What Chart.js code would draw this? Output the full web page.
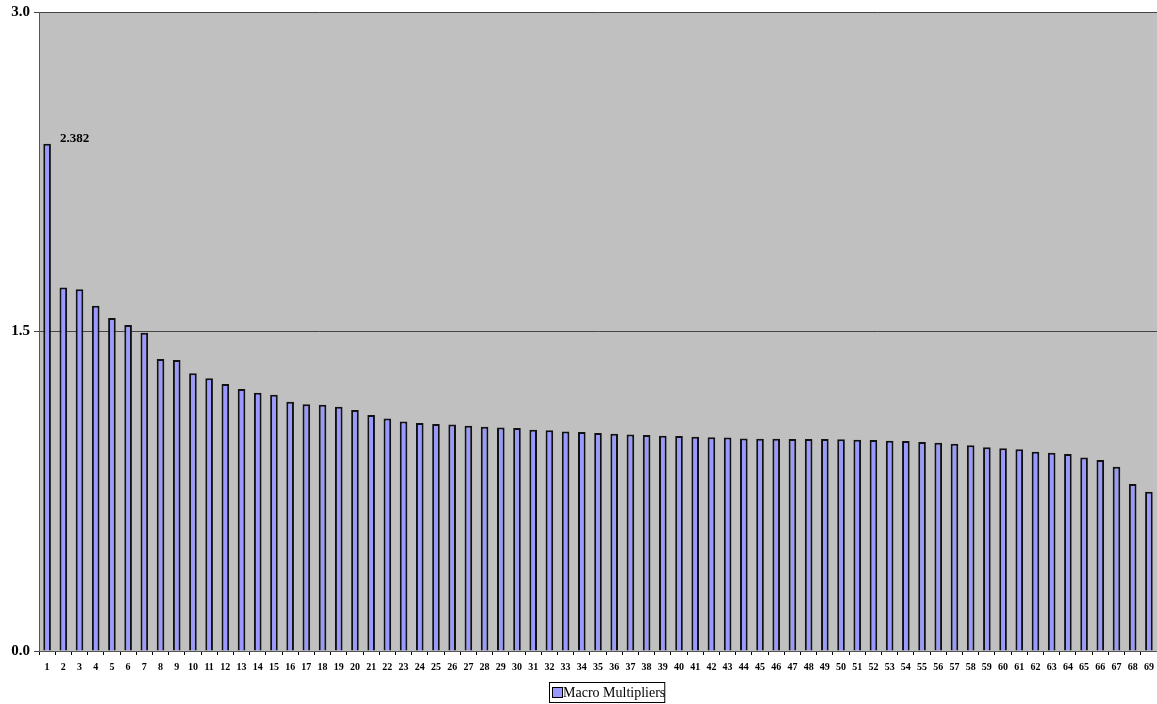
<!DOCTYPE html>
<html>
<head>
<meta charset="utf-8">
<script src="https://cdn.jsdelivr.net/npm/chart.js@4"></script>
<style>
html,body{margin:0;padding:0;background:#fff}
#wrap{width:1157px;height:704px;position:relative}
</style>
</head>
<body>
<div id="wrap"><canvas id="c"></canvas></div>
<script>
const labels = Array.from({length:69},(_,i)=>String(i+1));
const multipliers = [
  2.382,1.707,1.698,1.621,1.563,1.531,1.494,1.371,1.366,1.304,
  1.280,1.254,1.230,1.213,1.203,1.170,1.159,1.156,1.147,1.131,
  1.108,1.091,1.077,1.070,1.066,1.063,1.058,1.053,1.049,1.047,
  1.039,1.036,1.030,1.028,1.023,1.020,1.017,1.014,1.011,1.009,
  1.006,1.003,1.002,0.998,0.997,0.997,0.995,0.995,0.995,0.994,
  0.992,0.991,0.987,0.986,0.981,0.978,0.973,0.966,0.956,0.952,
  0.947,0.936,0.931,0.925,0.908,0.897,0.865,0.784,0.748
];
const yTicks = [0,1.5,3.0];
const seriesName = 'Macro Multipliers';
const FONT = '"Liberation Serif","Times New Roman",serif';

const excelLook = {
  id:'excelLook',
  beforeDraw(chart){
    const a=chart.chartArea, ctx=chart.ctx;
    ctx.save();ctx.fillStyle='#C0C0C0';
    ctx.fillRect(a.left,a.top,a.right-a.left,a.bottom-a.top);
    ctx.restore();
  },
  afterDatasetsDraw(chart){
    const bar=chart.getDatasetMeta(0).data[0], ctx=chart.ctx;
    ctx.save();
    ctx.font='bold 13px '+FONT;ctx.fillStyle='#000';ctx.textBaseline='alphabetic';
    ctx.fillText(multipliers[0].toFixed(3),bar.x+13,bar.y-2);
    ctx.restore();
  },
  afterDraw(chart){
    // legend box, Excel style
    const ctx=chart.ctx, ds=chart.data.datasets[0];
    ctx.save();
    ctx.font='14px '+FONT;
    const tw=ctx.measureText(ds.label).width;
    const x=549, y=682, w=tw+13, h=20;
    ctx.fillStyle='#fff';ctx.fillRect(x,y,w,h);
    ctx.strokeStyle='#000';ctx.lineWidth=1;ctx.strokeRect(x+0.5,y+0.5,w,h);
    ctx.fillStyle=ds.backgroundColor;ctx.fillRect(x+4,y+6,9,9);
    ctx.strokeStyle='#000';ctx.strokeRect(x+3.5,y+5.5,10,10);
    ctx.fillStyle='#000';ctx.textBaseline='middle';
    ctx.fillText(ds.label,x+14,y+11);
    ctx.restore();
  }
};

new Chart(document.getElementById('c'),{
  type:'bar',
  data:{labels,datasets:[{label:seriesName,data:multipliers,backgroundColor:'#9999FF',borderColor:'#111',borderWidth:2,barPercentage:0.47,categoryPercentage:1}]},
  options:{
    responsive:true,maintainAspectRatio:false,animation:false,
    layout:{padding:{top:12,right:0,left:0,bottom:22}},
    plugins:{legend:{display:false},tooltip:{enabled:false}},
    scales:{
      x:{
        grid:{display:true,drawOnChartArea:false,offset:true,color:'#000',tickLength:4},
        border:{color:'#555'},
        ticks:{font:{family:FONT,size:10,weight:'bold'},color:'#000',maxRotation:0,autoSkip:false,padding:6},
        afterFit(s){s.height=31;s.paddingLeft=0;s.paddingRight=0;}
      },
      y:{
        min:0,max:3,
        afterBuildTicks(s){s.ticks=yTicks.map(v=>({value:v}));},
        grid:{color:'#444',tickLength:5},
        border:{color:'#555'},
        ticks:{font:{family:FONT,size:15,weight:'bold'},color:'#000',callback:v=>Number(v).toFixed(1),padding:4},
        afterFit(s){s.width=39;s.paddingTop=0;s.paddingBottom=0;}
      }
    }
  },
  plugins:[excelLook]
});
</script>
</body>
</html>
